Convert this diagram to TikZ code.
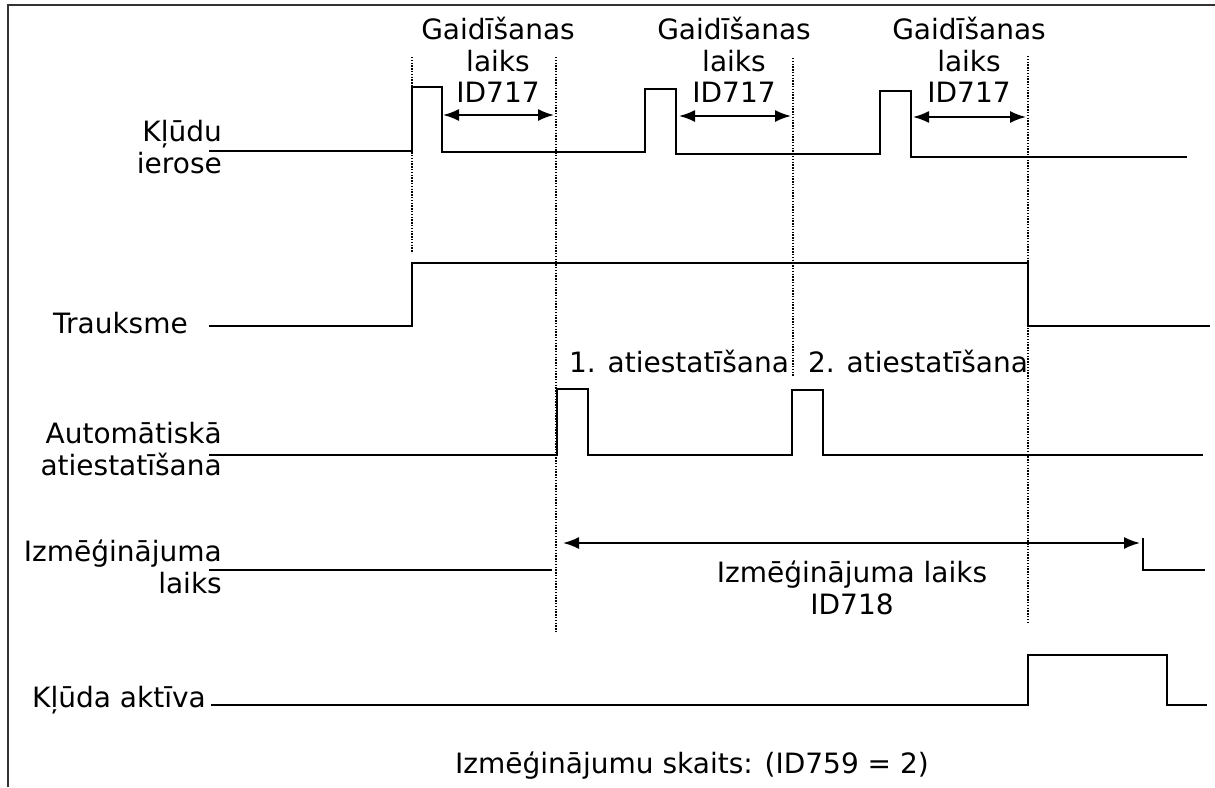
\documentclass[tikz,border=0pt]{standalone}
\usepackage{fontspec}
\setmainfont{DejaVu Sans}
\usetikzlibrary{arrows.meta, positioning}

\begin{document}
\begin{tikzpicture}[
    x=1pt, y=-1pt,
    sig/.style={draw=black, line width=1.5pt, line join=miter},
    guide/.style={draw=black, line width=1.3pt, dash pattern=on 1.4pt off 1.4pt},
    span/.style={draw=black, line width=1.8pt, {Latex[length=16pt,width=12pt]}-{Latex[length=16pt,width=12pt]}},
    lbl/.style={inner sep=0pt, font=\fontsize{28}{31.5}\selectfont},
    lblr/.style={lbl, align=right, anchor=east},
    lblc/.style={lbl, align=center}
]
    \useasboundingbox (0,0) rectangle (1215,787);

    % Frame
    \draw[line width=1.5pt, black!80] (8,787) -- (8,5) -- (1215,5);

    % Guides
    \foreach \gx/\gtop/\gbot/\gname in {412/57/253/ga, 556/57/632/gb, 793/58/377/gc, 1028/56/623/gd} {
        \coordinate (\gname top) at (\gx,\gtop);
        \coordinate (\gname bot) at (\gx,\gbot);
        \draw[guide] (\gname top) -- (\gname bot);
    }

    % Signals
    \draw[sig] (209,151) -- (412,151) -- (412,87) -- (442,87) -- (442,152) -- (645,152) -- (645,89) -- (676,89) -- (676,154) -- (880,154) -- (880,91) -- (911,91) -- (911,157) -- (1187,157);
    \draw[sig] (209,326) -- (412,326) -- (412,263) -- (1028,263) -- (1028,326) -- (1210,326);
    \draw[sig] (209,455) -- (557,455) -- (557,389) -- (588,389) -- (588,455) -- (792,455) -- (792,390) -- (823,390) -- (823,455) -- (1203,455);
    \draw[sig] (209,570) -- (552,570);
    \draw[sig] (1143,538) -- (1143,570) -- (1205,570);
    \draw[sig] (211,705) -- (1028,705) -- (1028,655) -- (1167,655) -- (1167,705) -- (1207,705);

    % Wait spans
    \coordinate (w1a) at (443,115);  \coordinate (w1b) at (554,115);
    \coordinate (w2a) at (679,116);  \coordinate (w2b) at (791,116);
    \coordinate (w3a) at (913,117);  \coordinate (w3b) at (1026,117);
    \coordinate (t1a) at (563,543);  \coordinate (t1b) at (1140,543);
    \draw[span] (w1a) -- (w1b);
    \draw[span] (w2a) -- (w2b);
    \draw[span] (w3a) -- (w3b);
    \draw[span] (t1a) -- (t1b);

    % Labels
    \node[lblr] (ierose) at (222,147) {Kļūdu\\ierose};
    \node[lbl, anchor=base east] (trauksme) at (188,333) {Trauksme};
    \node[lblr] (autoreset) at (222,449) {Automātiskā\\atiestatīšana};
    \node[lblr] (trial) at (222,567) {Izmēģinājuma\\laiks};
    \node[lbl, anchor=base east] (active) at (206,707) {Kļūda aktīva};

    \foreach \cx/\nm in {498/wait1, 734/wait2, 969/wait3}
        \node[lblc] (\nm) at (\cx,60) {Gaidīšanas\\laiks\\ID717};

    \node[lbl, anchor=base] (reset1) at (679,372) {1. atiestatīšana};
    \node[lbl, anchor=base] (reset2) at (918,372) {2. atiestatīšana};
    \node[lblc] (trialtime) at (852,588) {Izmēģinājuma laiks\\ID718};
    \node[lbl, anchor=base] (count) at (692,773) {Izmēģinājumu skaits: (ID759 = 2)};
\end{tikzpicture}
\end{document}
